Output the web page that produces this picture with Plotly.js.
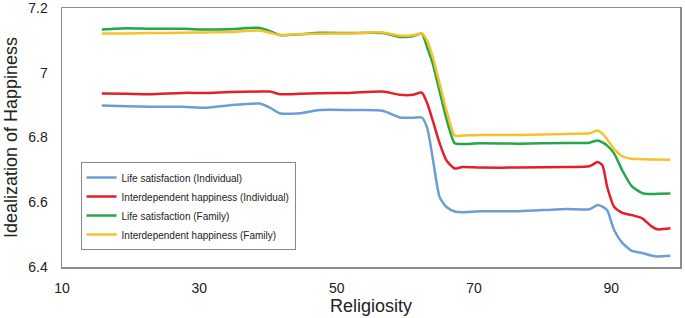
<!DOCTYPE html>
<html>
<head>
<meta charset="utf-8">
<script src="https://cdn.plot.ly/plotly-3.0.1.min.js"></script>
<style>html,body{margin:0;padding:0;background:#fff;}#chart{width:685px;height:318px;}</style>
</head>
<body>
<div id="chart"></div>
<script>
const religiosity = [15.8, 19.5, 22.8, 27.6, 31.1, 34.4, 38.8, 40.3, 41.7, 44.6, 47.5, 51.9, 56.7, 59.2, 61.1, 62.4, 63.2, 64.0, 65.0, 66.0, 67.2, 68.3, 70.8, 76.6, 83.5, 86.8, 88.0, 88.7, 89.4, 90.4, 91.6, 93.0, 94.5, 95.8, 96.7, 98.6];

const lifeSatIndividual = [6.899, 6.897, 6.895, 6.895, 6.892, 6.900, 6.905, 6.892, 6.875, 6.875, 6.885, 6.885, 6.883, 6.862, 6.861, 6.862, 6.828, 6.735, 6.615, 6.585, 6.571, 6.569, 6.572, 6.572, 6.579, 6.578, 6.591, 6.586, 6.575, 6.514, 6.474, 6.449, 6.443, 6.435, 6.432, 6.434];

const interHappIndividual = [6.936, 6.935, 6.934, 6.938, 6.938, 6.941, 6.942, 6.942, 6.934, 6.935, 6.937, 6.938, 6.942, 6.932, 6.932, 6.939, 6.905, 6.852, 6.782, 6.729, 6.704, 6.709, 6.707, 6.707, 6.709, 6.711, 6.724, 6.714, 6.647, 6.586, 6.567, 6.560, 6.550, 6.526, 6.516, 6.519];

const lifeSatFamily = [7.134, 7.138, 7.136, 7.136, 7.134, 7.135, 7.139, 7.129, 7.117, 7.119, 7.124, 7.123, 7.123, 7.111, 7.113, 7.121, 7.077, 7.028, 6.942, 6.857, 6.782, 6.780, 6.782, 6.781, 6.783, 6.784, 6.791, 6.785, 6.775, 6.751, 6.698, 6.649, 6.628, 6.625, 6.626, 6.627];

const interHappFamily = [7.122, 7.122, 7.123, 7.124, 7.125, 7.126, 7.131, 7.124, 7.117, 7.120, 7.121, 7.122, 7.125, 7.115, 7.116, 7.122, 7.098, 7.049, 6.966, 6.883, 6.806, 6.806, 6.808, 6.808, 6.811, 6.813, 6.822, 6.812, 6.794, 6.765, 6.742, 6.734, 6.733, 6.732, 6.732, 6.731];

const seriesNames = ["Life satisfaction (Individual)", "Interdependent happiness (Individual)", "Life satisfaction (Family)", "Interdependent happiness (Family)"];
const seriesColors = ["#6A9FD6", "#E3202A", "#22A84A", "#F6C12A"];
const seriesValues = [lifeSatIndividual, interHappIndividual, lifeSatFamily, interHappFamily];

const xTickVals = [10, 30, 50, 70, 90];
const yTickVals = [6.4, 6.6, 6.8, 7, 7.2];
const yTickText = ["6.4", "6.6", "6.8", "7", "7.2"];

const traces = seriesValues.map((vals, i) => ({
  x: religiosity,
  y: vals,
  type: "scatter",
  mode: "lines",
  name: seriesNames[i],
  line: {color: seriesColors[i], width: 2.5, shape: "spline", smoothing: 0.6}
}));

const axisFont = {family: "Liberation Sans, Arial, sans-serif", size: 14, color: "#222"};

const layout = {
  width: 685,
  height: 318,
  margin: {l: 62, r: 5, t: 8, b: 51},
  paper_bgcolor: "#fff",
  plot_bgcolor: "#fff",
  font: {family: "Liberation Sans, Arial, sans-serif", color: "#222"},
  showlegend: true,
  legend: {
    x: 0.03, y: 0.405, xanchor: "left", yanchor: "top",
    bgcolor: "#fff", bordercolor: "#888", borderwidth: 1,
    font: {family: "Liberation Sans, Arial, sans-serif", size: 10, color: "#222"},
    itemwidth: 30
  },
  xaxis: {
    range: [10, 100],
    tickvals: xTickVals,
    ticktext: xTickVals.map(String),
    showgrid: false, zeroline: false,
    showline: true, mirror: true, linecolor: "#8c8c8c", linewidth: 1.5,
    ticks: "", ticklabelstandoff: 8,
    tickfont: axisFont,
    title: {text: "Religiosity", font: {family: "Liberation Sans, Arial, sans-serif", size: 18, color: "#222"}, standoff: 2}
  },
  yaxis: {
    range: [6.3995, 7.2005],
    tickvals: yTickVals,
    ticktext: yTickText,
    showgrid: false, zeroline: false,
    showline: true, mirror: true, linecolor: "#8c8c8c", linewidth: 1.5,
    ticks: "", ticklabelstandoff: 10,
    tickfont: axisFont,
    title: {text: "Idealization of Happiness", font: {family: "Liberation Sans, Arial, sans-serif", size: 18, color: "#222"}, standoff: 6}
  }
};

Plotly.newPlot("chart", traces, layout, {displayModeBar: false, staticPlot: true});
</script>
</body>
</html>
